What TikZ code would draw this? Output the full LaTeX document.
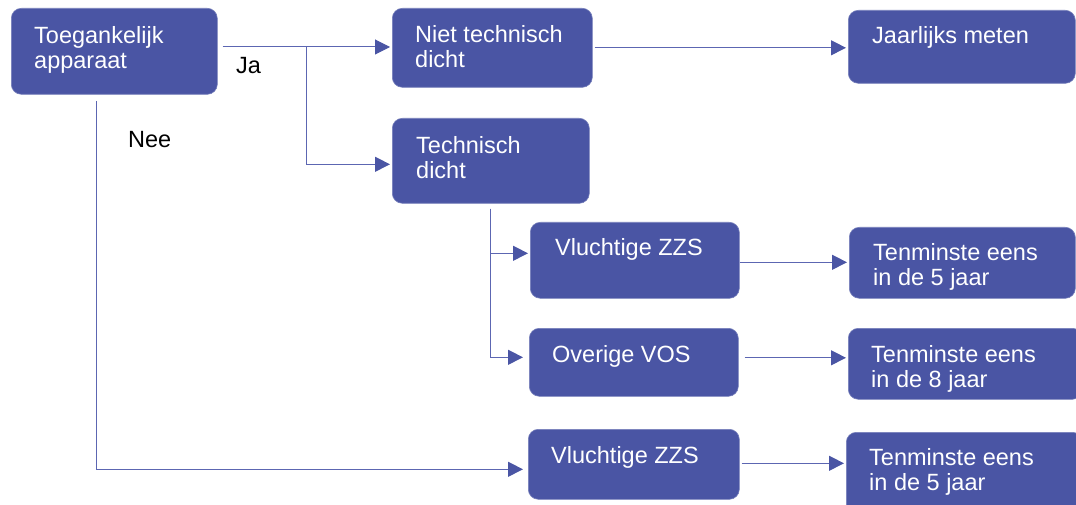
\documentclass[tikz,border=0pt]{standalone}
\usepackage{fontspec}
\setmainfont{Liberation Sans}
\usetikzlibrary{positioning, arrows.meta}

\definecolor{vakblauw}{RGB}{74,85,164}
\definecolor{lijnblauw}{RGB}{92,102,178}

\tikzset{
    vak/.style={fill=vakblauw, draw=vakblauw!75!white, line width=0.6pt, rounded corners=10pt, anchor=north west, inner sep=0pt},
    vaktekst/.style={text=white, align=left, inner sep=0pt, font=\fontsize{23.5}{25}\selectfont},
    antw/.style={inner sep=0pt, anchor=base west, font=\fontsize{23.5}{25}\selectfont},
    lijn/.style={draw=lijnblauw, line width=1pt},
    pijl/.style={lijn, -{Triangle[length=15pt, width=15pt, color=vakblauw]}, shorten >=2pt}
}

\begin{document}
\begin{tikzpicture}[x=1pt, y=-1pt]
    \useasboundingbox (0,0) rectangle (1076,505);
    \clip (0,0) rectangle (1076,505);

    % vakken
    \node[vak, minimum width=206pt, minimum height=86pt] (toeg) at (11,8) {};
    \node[vaktekst, below right=18pt and 23pt of toeg.north west] (toeg-t) {Toegankelijk\\apparaat};

    \node[vak, minimum width=200pt, minimum height=79pt] (niet) at (392,8) {};
    \node[vaktekst, below right=17pt and 23pt of niet.north west] (niet-t) {Niet technisch\\dicht};

    \node[vak, minimum width=197pt, minimum height=85pt] (tech) at (392,118) {};
    \node[vaktekst, below right=18pt and 24pt of tech.north west] (tech-t) {Technisch\\dicht};

    \node[vak, minimum width=227pt, minimum height=73pt] (jaar) at (848,10) {};
    \node[vaktekst, below right=16pt and 24pt of jaar.north west] (jaar-t) {Jaarlijks meten};

    \node[vak, minimum width=209pt, minimum height=76pt] (vlucht1) at (530,222) {};
    \node[vaktekst, below right=16pt and 25pt of vlucht1.north west] (vlucht1-t) {Vluchtige ZZS};

    \node[vak, minimum width=209pt, minimum height=68pt] (overige) at (529,328) {};
    \node[vaktekst, below right=17pt and 23pt of overige.north west] (overige-t) {Overige VOS};

    \node[vak, minimum width=211pt, minimum height=70pt] (vlucht2) at (528,429) {};
    \node[vaktekst, below right=17pt and 23pt of vlucht2.north west] (vlucht2-t) {Vluchtige ZZS};

    \node[vak, minimum width=226pt, minimum height=71pt] (ten5) at (849,227) {};
    \node[vaktekst, below right=16pt and 24pt of ten5.north west] (ten5-t) {Tenminste eens\\in de 5 jaar};

    \node[vak, minimum width=234pt, minimum height=71pt] (ten8) at (848,328) {};
    \node[vaktekst, below right=17pt and 23pt of ten8.north west] (ten8-t) {Tenminste eens\\in de 8 jaar};

    \node[vak, minimum width=236pt, minimum height=90pt] (ten5b) at (846,432) {};
    \node[vaktekst, below right=16pt and 23pt of ten5b.north west] (ten5b-t) {Tenminste eens\\in de 5 jaar};

    % antwoorden
    \node[antw] (ja-l) at (236,74) {Ja};
    \node[antw] (nee-l) at (128,148) {Nee};

    % verbindingen
    \coordinate (ja) at (306,47);
    \coordinate (nee) at (96,101);
    \draw[lijn, shorten <=5pt] (toeg.east |- ja) -- (ja);
    \draw[pijl] (ja) -- (ja -| niet.west);
    \draw[pijl] (ja) |- ([yshift=-3.5pt]tech.west);
    \draw[pijl, shorten >=5pt] (nee) |- ([yshift=-5pt]vlucht2.west);

    \draw[pijl, shorten <=5pt] (tech.south) |- ([yshift=7pt]vlucht1.west);
    \draw[pijl, shorten <=5pt, shorten >=6pt] (tech.south) |- ([yshift=5pt]overige.west);

    \draw[pijl, shorten <=2pt] (niet.east) -- (niet.east -| jaar.west);
    \draw[pijl] ([yshift=-2pt]vlucht1.east) -- ([yshift=-2pt]vlucht1.east -| ten5.west);
    \draw[pijl, shorten <=6pt] ([yshift=4.5pt]overige.east) -- ([yshift=4.5pt]overige.east -| ten8.west);
    \draw[pijl, shorten <=2pt] ([yshift=1pt]vlucht2.east) -- ([yshift=1pt]vlucht2.east -| ten5b.west);
\end{tikzpicture}
\end{document}
